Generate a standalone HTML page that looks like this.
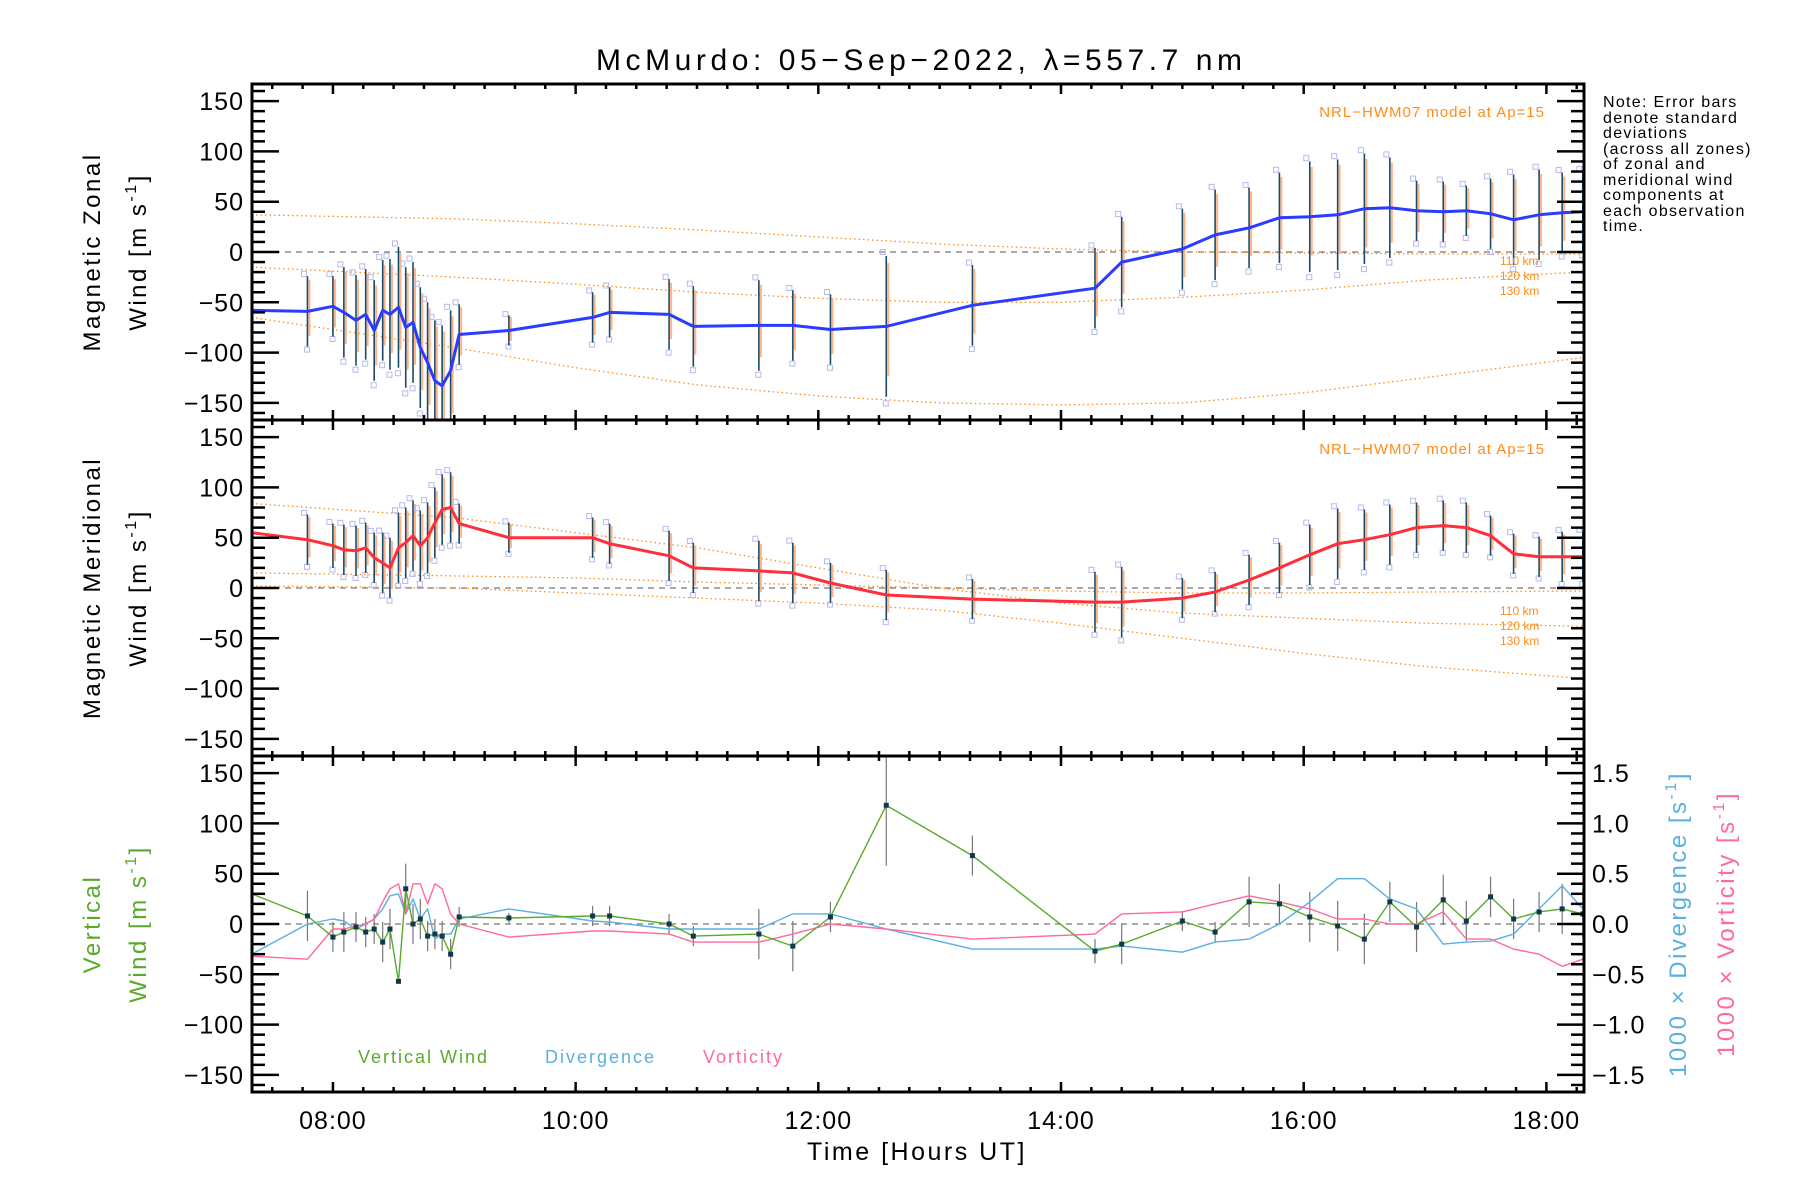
<!DOCTYPE html>
<html><head><meta charset="utf-8">
<style>
html,body{margin:0;padding:0;background:#fff;}
svg{display:block;font-family:"Liberation Sans",sans-serif;}
</style></head>
<body>
<svg id="c" width="1800" height="1200" viewBox="0 0 1800 1200" xmlns="http://www.w3.org/2000/svg">
<defs>
<clipPath id="cp1"><rect x="252" y="84" width="1332" height="336"/></clipPath>
<clipPath id="cp2"><rect x="252" y="420" width="1332" height="336"/></clipPath>
<clipPath id="cp3"><rect x="252" y="756" width="1332" height="336"/></clipPath>
</defs>
<text x="919" y="70" font-size="30" text-anchor="middle" textLength="646" lengthAdjust="spacing">McMurdo: 05−Sep−2022, λ=557.7 nm</text>
<g id="g1" clip-path="url(#cp1)"></g>
<g id="g2" clip-path="url(#cp2)"></g>
<g id="g3" clip-path="url(#cp3)"></g>
<g id="axes"></g>
<g letter-spacing="2.5">
<text transform="translate(100,252) rotate(-90)" font-size="24" text-anchor="middle">Magnetic Zonal</text>
<text transform="translate(146,252) rotate(-90)" font-size="24" text-anchor="middle">Wind [m s<tspan font-size="16" dy="-10">-1</tspan><tspan dy="10">]</tspan></text>
<text transform="translate(100,588) rotate(-90)" font-size="24" text-anchor="middle">Magnetic Meridional</text>
<text transform="translate(146,588) rotate(-90)" font-size="24" text-anchor="middle">Wind [m s<tspan font-size="16" dy="-10">-1</tspan><tspan dy="10">]</tspan></text>
<text transform="translate(100,924) rotate(-90)" font-size="24" text-anchor="middle" fill="#5aaa2a">Vertical</text>
<text transform="translate(146,924) rotate(-90)" font-size="24" text-anchor="middle" fill="#5aaa2a">Wind [m s<tspan font-size="16" dy="-10">-1</tspan><tspan dy="10">]</tspan></text>
<text transform="translate(1686,924) rotate(-90)" font-size="24" text-anchor="middle" fill="#5ab0e0">1000 × Divergence [s<tspan font-size="16" dy="-10">-1</tspan><tspan dy="10">]</tspan></text>
<text transform="translate(1734,924) rotate(-90)" font-size="24" text-anchor="middle" fill="#ff6a9a">1000 × Vorticity [s<tspan font-size="16" dy="-10">-1</tspan><tspan dy="10">]</tspan></text>
<text x="917" y="1160" font-size="25" text-anchor="middle">Time [Hours UT]</text>
</g>
<text x="1545" y="117" font-size="15" text-anchor="end" fill="#ff8c1a" letter-spacing="1">NRL−HWM07 model at Ap=15</text>
<text x="1545" y="454" font-size="15" text-anchor="end" fill="#ff8c1a" letter-spacing="1">NRL−HWM07 model at Ap=15</text>
<g font-size="12" fill="#ff8c1a">
<text x="1500" y="265">110 km</text><text x="1500" y="280">120 km</text><text x="1500" y="295">130 km</text>
<text x="1500" y="615">110 km</text><text x="1500" y="630">120 km</text><text x="1500" y="645">130 km</text>
</g>
<g font-size="16" letter-spacing="1.3">
<text x="1603" y="107">Note: Error bars</text><text x="1603" y="123">denote standard</text><text x="1603" y="138">deviations</text><text x="1603" y="154">(across all zones)</text><text x="1603" y="169">of zonal and</text><text x="1603" y="185">meridional wind</text><text x="1603" y="200">components at</text><text x="1603" y="216">each observation</text><text x="1603" y="231">time.</text>
</g>
<g letter-spacing="2">
<text x="358" y="1063" font-size="18" fill="#5aaa2a">Vertical Wind</text>
<text x="545" y="1063" font-size="18" fill="#5ab0e0">Divergence</text>
<text x="703" y="1063" font-size="18" fill="#ff6a9a">Vorticity</text>
</g>
</svg>
<script>
const times=[7.33,7.79,8.0,8.09,8.19,8.27,8.34,8.41,8.47,8.54,8.6,8.66,8.72,8.78,8.84,8.9,8.97,9.04,9.45,10.14,10.28,10.77,10.97,11.51,11.79,12.1,12.56,13.27,14.28,14.5,15.0,15.27,15.55,15.8,16.05,16.28,16.5,16.71,16.93,17.15,17.34,17.54,17.73,17.94,18.13,18.3];
const zonal=[-58,-59,-54,-60,-68,-62,-78,-58,-62,-55,-75,-70,-95,-110,-128,-133,-118,-82,-78,-65,-60,-62,-74,-73,-73,-77,-74,-53,-36,-10,3,17,24,34,35,37,43,44,41,40,41,38,32,37,39,40];
const zonalErr=[0,35,30,45,45,45,50,50,55,60,60,60,60,60,60,60,60,30,15,25,25,35,40,45,35,35,70,40,40,45,40,45,40,45,55,55,55,50,30,30,25,35,45,45,40,40];
const merid=[55,48,42,38,37,40,30,25,20,40,45,52,42,50,65,78,80,64,50,50,44,32,20,17,15,5,-7,-11,-14,-14,-10,-4,8,20,33,44,48,53,60,62,60,52,34,31,31,31];
const meridErr=[0,25,22,25,25,25,25,30,30,35,35,35,35,35,35,35,35,20,15,20,20,25,25,30,30,20,25,20,30,35,20,20,25,25,30,35,30,30,25,25,25,20,20,20,25,25];
const vert=[30,8,-13,-8,-3,-8,-5,-18,-5,-57,35,0,5,-12,-10,-12,-30,7,6,8,8,0,-12,-10,-22,7,118,68,-27,-20,3,-8,22,20,7,-2,-15,22,-3,24,3,27,5,12,15,10];
const vertErr=[0,25,15,20,15,15,15,20,20,0,25,20,20,15,15,15,15,10,5,10,10,10,10,25,25,15,60,20,12,20,10,10,25,20,25,25,25,20,25,25,20,20,20,20,25,25];
const diverg=[-0.3,0.0,0.05,0.03,-0.05,0.0,0.05,0.15,0.28,0.3,0.1,0.25,0.05,0.15,-0.15,-0.1,-0.1,0.05,0.15,0.03,0.02,-0.05,-0.05,-0.05,0.1,0.1,-0.05,-0.25,-0.25,-0.22,-0.28,-0.18,-0.15,0.0,0.22,0.45,0.45,0.25,0.15,-0.2,-0.18,-0.17,-0.1,0.15,0.38,0.15];
const vort=[-0.32,-0.35,-0.05,-0.05,-0.02,0.0,0.05,0.22,0.35,0.4,0.1,0.4,0.4,0.2,0.4,0.35,0.1,0.0,-0.13,-0.07,-0.07,-0.1,-0.18,-0.18,-0.1,0.0,-0.05,-0.15,-0.1,0.1,0.12,0.2,0.28,0.22,0.15,0.05,0.05,0.0,0.0,0.12,-0.15,-0.15,-0.25,-0.3,-0.42,-0.35];
const modelTimes=[7.33,9,10,11,12,13,14,15,16,17,18.3];
const zonalModel110=[37,33,28,22,15,8,3,0,-1,-2,-2];
const zonalModel120=[-15,-25,-32,-40,-46,-50,-50,-45,-38,-28,-20];
const zonalModel130=[-65,-95,-115,-132,-143,-150,-152,-150,-140,-125,-105];
const meridModel110=[84,70,55,40,20,0,-15,-25,-30,-35,-38];
const meridModel120=[15,12,10,6,3,0,-3,-5,-5,-4,-3];
const meridModel130=[2,0,-5,-10,-15,-22,-35,-50,-65,-78,-90];
const xTickLabels=["08:00","10:00","12:00","14:00","16:00","18:00"];
const yTickLabels=["−150","−100","−50","0","50","100","150"];
const rTickLabels=["−1.5","−1.0","−0.5","0.0","0.5","1.0","1.5"];

const NS="http://www.w3.org/2000/svg";
const X0=252,X1=1584,T0=7.333,T1=18.31;
const PT=[84,420,756];const PH=336;
function xs(t){return X0+(t-T0)/(T1-T0)*(X1-X0);}
function ys(p,v){return PT[p]+PH/2-v*PH/334;}
function mk(tag,parent,attrs){const e=document.createElementNS(NS,tag);for(const k in attrs)e.setAttribute(k,attrs[k]);parent.appendChild(e);return e;}
const axes=document.getElementById('axes');
const G=[document.getElementById('g1'),document.getElementById('g2'),document.getElementById('g3')];

function dashedZero(p){
  const l=mk('line',G[p],{x1:X0,x2:X1,y1:ys(p,0),y2:ys(p,0),stroke:'#777','stroke-width':1.2,'stroke-dasharray':'6,5'});
  
  
}
function polyline(p,tArr,vArr,color,w,dash,name){
  let d='';for(let i=0;i<tArr.length;i++)d+=(i?'L':'M')+xs(tArr[i]).toFixed(1)+','+ys(p,vArr[i]).toFixed(1);
  const a={d:d,fill:'none',stroke:color,'stroke-width':w,'stroke-linejoin':'round'};
  if(dash)a['stroke-dasharray']=dash;
  const e=mk('path',G[p],a);
  
  
}
function errorBars(p,vals,errs,name){
  for(let i=0;i<times.length;i++){
    if(!errs[i])continue;
    const x=xs(times[i]);
    const q=mk('rect',G[p],{x:x-6,y:ys(p,vals[i]+errs[i]*1.05)-3,width:5,height:5,fill:'none',stroke:'#b8b8ee','stroke-width':1});
    
    
    const q2=mk('rect',G[p],{x:x-3,y:ys(p,vals[i]-errs[i]*1.1)-3,width:5,height:5,fill:'none',stroke:'#b8b8ee','stroke-width':1});
    
    
    const o=mk('line',G[p],{x1:x+2,x2:x+2,y1:ys(p,vals[i]+errs[i]*0.9),y2:ys(p,vals[i]-errs[i]*0.7),stroke:'#ffb38a','stroke-width':2});
    
    
    const e=mk('line',G[p],{x1:x,x2:x,y1:ys(p,vals[i]+errs[i]),y2:ys(p,vals[i]-errs[i]),stroke:'#1c4a66','stroke-width':1.6});
    
    
  }
}
dashedZero(0);
polyline(0,modelTimes,zonalModel110,'#ff8c1a',1.3,'1.5,3','model-110km');
polyline(0,modelTimes,zonalModel120,'#ff8c1a',1.3,'1.5,3','model-120km');
polyline(0,modelTimes,zonalModel130,'#ff8c1a',1.3,'1.5,3','model-130km');
errorBars(0,zonal,zonalErr,'zonal-error-bar');
polyline(0,times,zonal,'#2a3cff',3,null,'zonal-wind-line');
dashedZero(1);
polyline(1,modelTimes,meridModel110,'#ff8c1a',1.3,'1.5,3','model-110km');
polyline(1,modelTimes,meridModel120,'#ff8c1a',1.3,'1.5,3','model-120km');
polyline(1,modelTimes,meridModel130,'#ff8c1a',1.3,'1.5,3','model-130km');
errorBars(1,merid,meridErr,'meridional-error-bar');
polyline(1,times,merid,'#ff2e3a',3,null,'meridional-wind-line');
dashedZero(2);
for(let i=0;i<times.length;i++){
  if(!vertErr[i])continue;
  const x=xs(times[i]);
  const e=mk('line',G[2],{x1:x,x2:x,y1:ys(2,vert[i]+vertErr[i]),y2:ys(2,vert[i]-vertErr[i]),stroke:'#777','stroke-width':1.2});
  
  
}
polyline(2,times,diverg.map(v=>v*100),'#5ab0e0',1.4,null,'divergence-line');
polyline(2,times,vort.map(v=>v*100),'#ff6a9a',1.4,null,'vorticity-line');
polyline(2,times,vert,'#5aaa2a',1.4,null,'vertical-wind-line');
for(let i=1;i<times.length;i++){
  const c=mk('rect',G[2],{x:xs(times[i])-2.5,y:ys(2,vert[i])-2.5,width:5,height:5,fill:'#10384a'});
  
  
}
for(let p=0;p<3;p++){
  const top=PT[p],bot=PT[p]+PH;
  const f=mk('rect',axes,{x:X0,y:top,width:X1-X0,height:PH,fill:'none',stroke:'#000','stroke-width':3});
  
  
  for(let t=7.5;t<=18.3;t+=0.25){
    const major=Math.abs(t/2-Math.round(t/2))<1e-6;
    const L=major?10:5,x=xs(t);
    mk('line',axes,{x1:x,x2:x,y1:bot,y2:bot-L,stroke:'#000','stroke-width':2.5});
    mk('line',axes,{x1:x,x2:x,y1:top,y2:top+L,stroke:'#000','stroke-width':2.5});
  }
  for(let v=-160;v<=160;v+=10){
    const major=v%50===0,L=major?27:13,y=ys(p,v);
    mk('line',axes,{x1:X0,x2:X0+L,y1:y,y2:y,stroke:'#000','stroke-width':2.5});
    mk('line',axes,{x1:X1,x2:X1-L,y1:y,y2:y,stroke:'#000','stroke-width':2.5});
  }
  for(let k=0;k<yTickLabels.length;k++){
    const t=mk('text',axes,{x:X0-8,y:ys(p,-150+50*k)+9,'font-size':25,'text-anchor':'end','letter-spacing':1});
    t.textContent=yTickLabels[k];
    
    
  }
}
for(let k=0;k<rTickLabels.length;k++){
  const t=mk('text',axes,{x:X1+8,y:ys(2,-150+50*k)+9,'font-size':25,'text-anchor':'start','letter-spacing':1});
  t.textContent=rTickLabels[k];
  
  
}
for(let k=0;k<xTickLabels.length;k++){
  const t=mk('text',axes,{x:xs(8+2*k),y:1129,'font-size':25,'text-anchor':'middle','letter-spacing':1});
  t.textContent=xTickLabels[k];
  
  
}
</script>
</body></html>
